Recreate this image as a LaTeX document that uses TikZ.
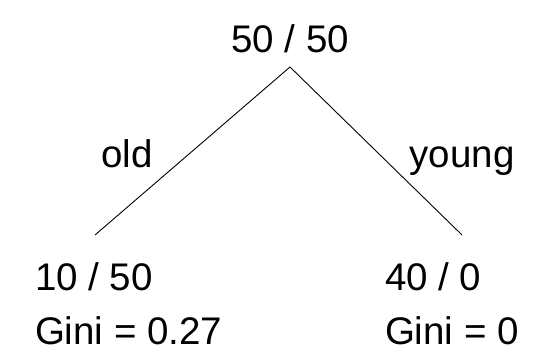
\documentclass[tikz,border=0pt]{standalone}
\usepackage{fontspec}
\setmainfont{Liberation Sans}
\definecolor{treetext}{RGB}{0,0,0}
\definecolor{treeline}{RGB}{0,0,0}

\begin{document}
\begin{tikzpicture}[
  x=1pt,
  y=1pt,
  every node/.style={inner sep=0pt, outer sep=0pt},
  count/.style={font=\fontsize{38.5}{41}\selectfont, text=treetext, anchor=base west},
  rootcount/.style={font=\fontsize{38.5}{41}\selectfont, text=treetext, anchor=base},
  branch/.style={font=\fontsize{38.5}{41}\selectfont, text=treetext, anchor=base},
  split/.style={draw=treeline, line width=0.9pt}
]

  \path[use as bounding box] (0,0) rectangle (552,361);

  % Root of the tree.
  \node[rootcount] (root) at (290,308) {50 / 50};
  \coordinate (apex) at (290,294);

  % Ends of the two branches.
  \coordinate (oldend) at (95,126);
  \coordinate (youngend) at (462,126);
  \draw[split] (oldend) -- (apex) -- (youngend);

  % Branch labels.
  \node[branch] (old) at (127,193) {old};
  \node[branch] (young) at (462,193) {young};

  % Leaves.
  \node[count] (oldcount) at (35,70) {10 / 50};
  \node[count] (oldgini) at (35,16) {Gini = 0.27};
  \node[count] (youngcount) at (385,70) {40 / 0};
  \node[count] (younggini) at (385,16) {Gini = 0};

\end{tikzpicture}
\end{document}
